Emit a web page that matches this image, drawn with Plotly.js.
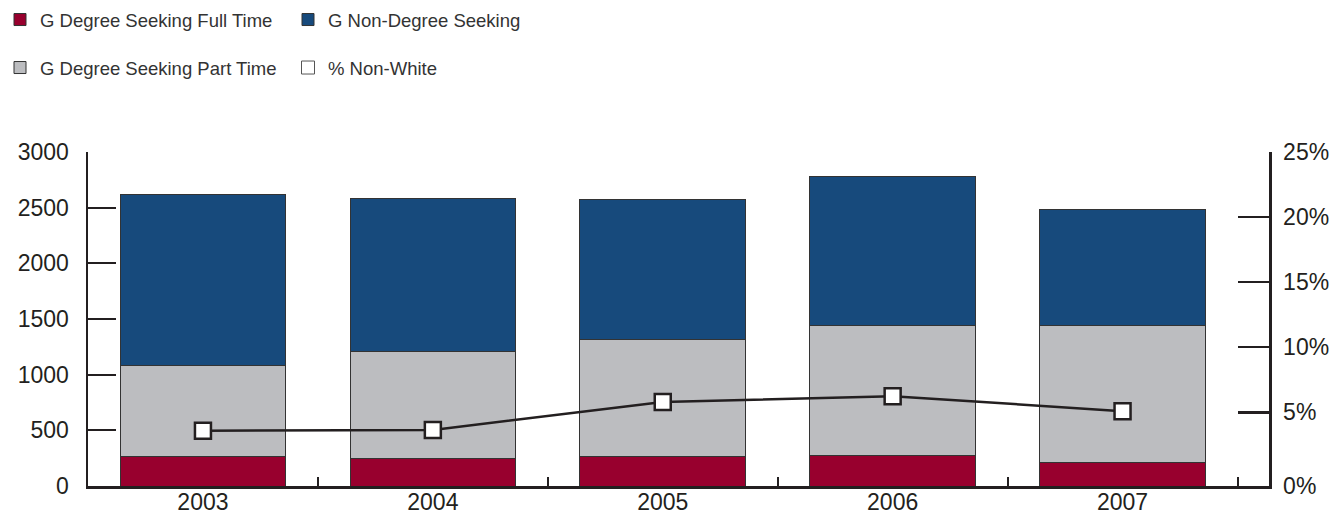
<!DOCTYPE html>
<html lang="en">
<head>
    <meta charset="UTF-8">
    <title>Graduate Enrollment 2003-2007</title>
    <script src="https://cdn.jsdelivr.net/npm/plotly.js@3.0.1/dist/plotly.min.js"></script>
    <style>
        html, body { margin: 0; padding: 0; background: #ffffff; }
        #chart { width: 1341px; height: 520px; }
    </style>
</head>
<body>
    <div id="chart"></div>

    <script>
        // Values
        const years = ['2003', '2004', '2005', '2006', '2007'];
        const fullTime = [266, 250, 266, 277, 214];
        const partTime = [819, 961, 1053, 1162, 1225];
        const nonDegree = [1530, 1369, 1251, 1345, 1041];
        const pctNonWhite = [3.6, 3.65, 5.8, 6.25, 5.1];

        const pctTicks = [-0.65, 5, 10, 15, 20, 25];
        const pctLabels = ['0%', '5%', '10%', '15%', '20%', '25%'];

        const ink = '#231f20';
        const fontFamily = '"Liberation Sans", Arial, sans-serif';
        const barLine = { color: '#333333', width: 1 };

        const data = [
            {
                type: 'bar', name: 'G Degree Seeking Full Time', x: years, y: fullTime,
                marker: { color: '#98002e', line: barLine }, legend: 'legend'
            },
            {
                type: 'bar', name: 'G Degree Seeking Part Time', x: years, y: partTime,
                marker: { color: '#bcbdc0', line: barLine }, legend: 'legend2'
            },
            {
                type: 'bar', name: 'G Non-Degree Seeking', x: years, y: nonDegree,
                marker: { color: '#174a7c', line: barLine }, legend: 'legend'
            },
            {
                type: 'scatter', mode: 'lines+markers', name: '% Non-White',
                x: years, y: pctNonWhite, yaxis: 'y2', showlegend: false,
                line: { color: ink, width: 2.5 },
                marker: { symbol: 'square', size: 16, color: '#ffffff', line: { color: ink, width: 2.5 } }
            },
            {
                // legend entry only: the reference shows a plain square
                type: 'scatter', mode: 'markers', name: '% Non-White',
                x: [null], y: [null], yaxis: 'y2', legend: 'legend2',
                marker: { symbol: 'square', size: 13, color: '#ffffff', line: { color: '#555555', width: 1 } }
            }
        ];

        const legendBase = {
            orientation: 'h',
            xref: 'container', yref: 'container',
            x: -0.007, xanchor: 'left', yanchor: 'middle',
            entrywidth: 243, entrywidthmode: 'pixels',
            traceorder: 'normal',
            font: { family: fontFamily, size: 18.5, color: '#333333' },
            bgcolor: 'rgba(0,0,0,0)'
        };

        const layout = {
            width: 1341,
            height: 520,
            margin: { l: 88, r: 72, t: 152, b: 34 },
            paper_bgcolor: '#ffffff',
            plot_bgcolor: '#ffffff',
            barmode: 'stack',
            bargap: 0.28,
            font: { family: fontFamily, size: 23, color: ink },
            legend: Object.assign({}, legendBase, { y: 1 - 20 / 520 }),
            legend2: Object.assign({}, legendBase, { y: 1 - 68 / 520 }),
            xaxis: {
                type: 'category',
                range: [-0.5, 4.637],
                showline: true, linecolor: ink, linewidth: 2.5,
                ticks: 'inside', tickson: 'boundaries', ticklen: 9, tickwidth: 2, tickcolor: ink,
                ticklabelstandoff: -6,
                showgrid: false, zeroline: false,
                tickfont: { size: 23, color: ink }
            },
            yaxis: {
                range: [0, 3000], dtick: 500, tick0: 0,
                showline: true, linecolor: ink, linewidth: 2.5,
                ticks: 'inside', ticklen: 28, tickwidth: 2.2, tickcolor: ink,
                ticklabelstandoff: 12,
                showgrid: false, zeroline: false,
                tickfont: { size: 23, color: ink }
            },
            yaxis2: {
                overlaying: 'y', side: 'right',
                range: [-0.65, 25],
                tickmode: 'array', tickvals: pctTicks, ticktext: pctLabels,
                showline: true, linecolor: ink, linewidth: 2.5,
                ticks: 'inside', ticklen: 31, tickwidth: 2.2, tickcolor: ink,
                ticklabelstandoff: 7,
                showgrid: false, zeroline: false,
                tickfont: { size: 23, color: ink }
            }
        };

        Plotly.newPlot('chart', data, layout, { staticPlot: true, displayModeBar: false })
            .catch(err => console.error('Plot failed:', err));
    </script>
</body>
</html>
